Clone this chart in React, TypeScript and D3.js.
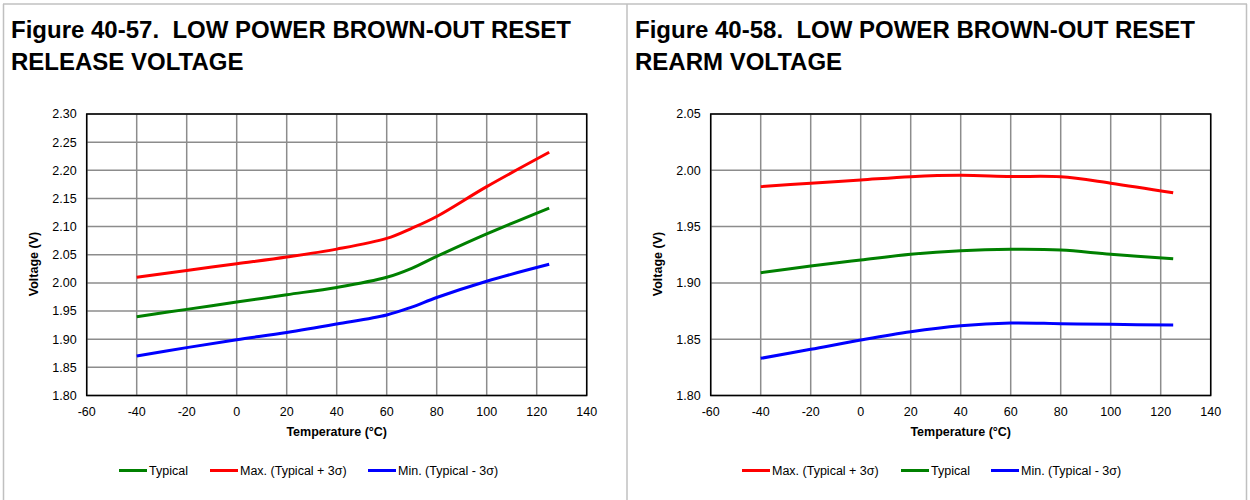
import React from "react";
import * as d3 from "d3";

// ---------- Data ----------
const tempsA = [-40, -20, 0, 20, 40, 60, 70, 80, 100, 125];
const maxA = [2.010, 2.022, 2.034, 2.046, 2.060, 2.079, 2.097, 2.118, 2.171, 2.232];
const typA = [1.940, 1.953, 1.966, 1.979, 1.992, 2.010, 2.026, 2.047, 2.087, 2.133];
const minA = [1.870, 1.885, 1.899, 1.912, 1.927, 1.943, 1.957, 1.974, 2.003, 2.033];

const tempsB = [-40, -20, 0, 20, 40, 60, 80, 100, 125];
const maxB = [1.9855, 1.9885, 1.9914, 1.9943, 1.9955, 1.9945, 1.9942, 1.9885, 1.980];
const typB = [1.909, 1.915, 1.9203, 1.9254, 1.9286, 1.9298, 1.9292, 1.9254, 1.9215];
const minB = [1.833, 1.841, 1.8493, 1.8567, 1.862, 1.8644, 1.8638, 1.8632, 1.8626];

const xTicks = [-60, -40, -20, 0, 20, 40, 60, 80, 100, 120, 140];
const yTicksA = [1.8, 1.85, 1.9, 1.95, 2.0, 2.05, 2.1, 2.15, 2.2, 2.25, 2.3];
const yTicksB = [1.8, 1.85, 1.9, 1.95, 2.0, 2.05];

const titleA = ["Figure 40-57.  LOW POWER BROWN-OUT RESET", "RELEASE VOLTAGE"];
const titleB = ["Figure 40-58.  LOW POWER BROWN-OUT RESET", "REARM VOLTAGE"];

const labelTyp = "Typical";
const labelMax = "Max. (Typical + 3\u03c3)";
const labelMin = "Min. (Typical - 3\u03c3)";

const RED = "#ff0000";
const GREEN = "#008000";
const BLUE = "#0000ff";
const FONT = "'Liberation Sans', Arial, sans-serif";

type Series = { name: string; color: string; values: number[] };
type LegendItem = { name: string; color: string; x: number };

function Panel(props: {
  ox: number;
  title: string[];
  temps: number[];
  series: Series[];
  yDomain: [number, number];
  yTicks: number[];
  legend: LegendItem[];
}) {
  const { ox, title, temps, series, yDomain, yTicks, legend } = props;
  const left = ox + 86.7;
  const right = ox + 586.7;
  const top = 114;
  const bottom = 395.5;
  const x = d3.scaleLinear().domain([-60, 140]).range([left, right]);
  const y = d3.scaleLinear().domain(yDomain).range([bottom, top]);
  const line = d3
    .line<[number, number]>()
    .x((d) => x(d[0]))
    .y((d) => y(d[1]))
    .curve(d3.curveCatmullRom.alpha(0.5));
  const cx = (left + right) / 2;
  return (
    <g>
      {title.map((t, i) => (
        <text
          key={i}
          x={ox + 11}
          y={38 + i * 32}
          fontFamily={FONT}
          fontWeight="bold"
          fontSize={24}
          fill="#000"
          style={{ whiteSpace: "pre" }}
        >
          {t}
        </text>
      ))}
      {/* grid */}
      {xTicks.map((t) => (
        <line key={"vx" + t} x1={x(t)} x2={x(t)} y1={top} y2={bottom} stroke="#8c8c8c" strokeWidth={1.5} />
      ))}
      {yTicks.map((t) => (
        <line key={"hy" + t} x1={left} x2={right} y1={y(t)} y2={y(t)} stroke="#8c8c8c" strokeWidth={1.5} />
      ))}
      <rect x={left} y={top} width={right - left} height={bottom - top} fill="none" stroke="#000" strokeWidth={1.5} />
      {/* tick labels */}
      {xTicks.map((t) => (
        <text key={"xl" + t} x={x(t)} y={416} textAnchor="middle" fontFamily={FONT} fontSize={12.5} fill="#000">
          {t}
        </text>
      ))}
      {yTicks.map((t) => (
        <text key={"yl" + t} x={left - 10} y={y(t) + 4.4} textAnchor="end" fontFamily={FONT} fontSize={12.5} fill="#000">
          {t.toFixed(2)}
        </text>
      ))}
      <text x={cx} y={436} textAnchor="middle" fontFamily={FONT} fontWeight="bold" fontSize={12.5} fill="#000">
        Temperature (°C)
      </text>
      <text
        transform={`translate(${ox + 37.5},264) rotate(-90)`}
        textAnchor="middle"
        fontFamily={FONT}
        fontWeight="bold"
        fontSize={12.5}
        fill="#000"
      >
        Voltage (V)
      </text>
      {/* series */}
      {series.map((s) => (
        <path
          key={s.name}
          d={line(temps.map((t, i) => [t, s.values[i]] as [number, number])) || ""}
          fill="none"
          stroke={s.color}
          strokeWidth={3}
          strokeLinecap="butt"
        />
      ))}
      {/* legend */}
      {legend.map((l) => (
        <g key={l.name}>
          <line x1={l.x} x2={l.x + 28} y1={470.5} y2={470.5} stroke={l.color} strokeWidth={3} />
          <text x={l.x + 30} y={474.9} fontFamily={FONT} fontSize={12.5} fill="#000">
            {l.name}
          </text>
        </g>
      ))}
    </g>
  );
}

export default function App() {
  return (
    <svg
      width={1250}
      height={500}
      style={{ position: "absolute", left: 0, top: 0, background: "#fff" }}
    >
      <rect x={0} y={0} width={1250} height={500} fill="#fff" />
      {/* panel borders */}
      <line x1={3} x2={1247} y1={4} y2={4} stroke="#c0c0c0" strokeWidth={1.5} />
      <line x1={3.5} x2={3.5} y1={4} y2={500} stroke="#c0c0c0" strokeWidth={1.5} />
      <line x1={627} x2={627} y1={4} y2={500} stroke="#c0c0c0" strokeWidth={1.5} />
      <line x1={1246.5} x2={1246.5} y1={4} y2={500} stroke="#c0c0c0" strokeWidth={1.5} />
      <Panel
        ox={0}
        title={titleA}
        temps={tempsA}
        series={[
          { name: "typ", color: GREEN, values: typA },
          { name: "max", color: RED, values: maxA },
          { name: "min", color: BLUE, values: minA },
        ]}
        yDomain={[1.8, 2.3]}
        yTicks={yTicksA}
        legend={[
          { name: labelTyp, color: GREEN, x: 119 },
          { name: labelMax, color: RED, x: 210 },
          { name: labelMin, color: BLUE, x: 368 },
        ]}
      />
      <Panel
        ox={624}
        title={titleB}
        temps={tempsB}
        series={[
          { name: "max", color: RED, values: maxB },
          { name: "typ", color: GREEN, values: typB },
          { name: "min", color: BLUE, values: minB },
        ]}
        yDomain={[1.8, 2.05]}
        yTicks={yTicksB}
        legend={[
          { name: labelMax, color: RED, x: 742 },
          { name: labelTyp, color: GREEN, x: 901 },
          { name: labelMin, color: BLUE, x: 991 },
        ]}
      />
    </svg>
  );
}
